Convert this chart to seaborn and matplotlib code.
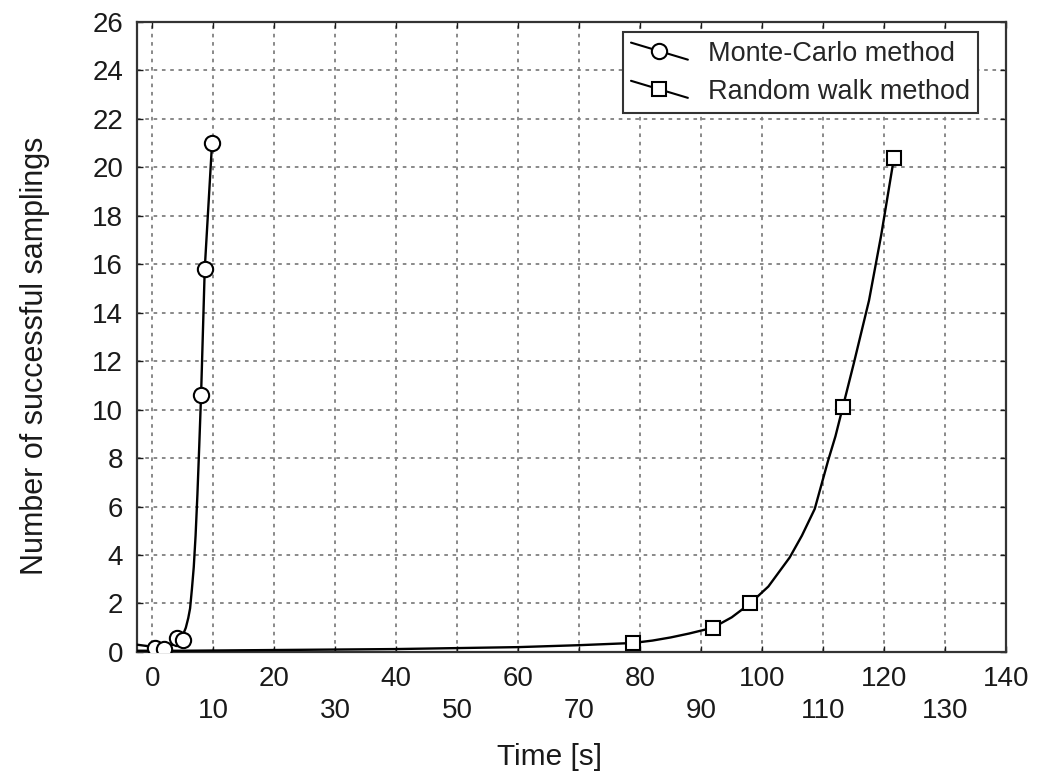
"""
Successful samplings over time: Monte-Carlo vs random walk
"""
import numpy as np
import pandas as pd
import matplotlib
matplotlib.use("Agg")
import matplotlib.pyplot as plt
import seaborn as sns
from matplotlib.lines import Line2D
from matplotlib.legend_handler import HandlerLine2D
from matplotlib.ticker import FixedLocator

# marker points
mc_x = [0.4, 2.0, 4.1, 5.0, 8.0, 8.6, 9.8]
mc_y = [0.17, 0.12, 0.58, 0.5, 10.6, 15.8, 21.0]
rw_x = [78.8, 91.9, 98.0, 113.2, 121.6]
rw_y = [0.37, 1.0, 2.0, 10.1, 20.4]

# the drawn smooth curves
mc_curve_x = [-2.5, -1.0, 0.5, 2.0, 3.2, 4.0, 4.6, 5.1, 5.5, 5.9, 6.2, 6.5, 6.8,
              7.1, 7.4, 7.7, 8.0, 8.3, 8.6, 9.2, 9.8]
mc_curve_y = [0.3, 0.25, 0.2, 0.2, 0.28, 0.4, 0.55, 0.75, 1.0, 1.4, 1.8, 2.6, 3.5,
              4.8, 6.5, 8.5, 10.6, 13.2, 15.8, 18.4, 21.0]
rw_curve_x = [-2.5, 5, 20, 40, 60, 70, 78.8, 82, 85, 88, 91.9, 95, 98.0, 101,
              104.5, 106.5, 108.6, 110.8, 112, 113.2, 115, 117.5, 119.5, 121.6]
rw_curve_y = [0.05, 0.05, 0.08, 0.12, 0.2, 0.28, 0.37, 0.47, 0.6, 0.76, 1.0, 1.43,
              2.0, 2.7, 3.9, 4.8, 5.9, 7.9, 8.9, 10.1, 11.9, 14.5, 17.2, 20.4]

labels = ["Monte-Carlo method", "Random walk method"]
x_major = [0, 20, 40, 60, 80, 100, 120, 140]
x_minor = [10, 30, 50, 70, 90, 110, 130]
y_ticks = list(range(0, 27, 2))


class DiagonalHandler(HandlerLine2D):
    # legend sample drawn as a slanted line, like the original figure
    def create_artists(self, legend, orig_handle, xdescent, ydescent,
                       width, height, fontsize, trans):
        artists = super().create_artists(legend, orig_handle, xdescent, ydescent,
                                         width, height, fontsize, trans)
        for a in artists:
            yd = np.asarray(a.get_ydata(), dtype=float)
            cy = yd.mean()
            a.set_ydata(np.linspace(cy + height * 0.45, cy - height * 0.45, len(yd)))
        return artists


sns.set_style("ticks")
plt.rcParams['font.family'] = ['Liberation Sans', 'DejaVu Sans']

fig = plt.figure(figsize=(10.46, 7.78), dpi=100)
ax = fig.add_axes([0.131, 0.162, 0.831, 0.81])

mc_curve = pd.DataFrame({"x": mc_curve_x, "y": mc_curve_y})
rw_curve = pd.DataFrame({"x": rw_curve_x, "y": rw_curve_y})
sns.lineplot(data=mc_curve, x="x", y="y", sort=False, color="black", lw=1.7, ax=ax, zorder=3)
sns.lineplot(data=rw_curve, x="x", y="y", sort=False, color="black", lw=1.7, ax=ax, zorder=3)

ax.plot(mc_x, mc_y, ls="none", marker="o", ms=11, mfc="white", mec="black", mew=1.5, zorder=4)
ax.plot(rw_x, rw_y, ls="none", marker="s", ms=10.5, mfc="white", mec="black", mew=1.5, zorder=4)

ax.set_xlim(-2.5, 140)
ax.set_ylim(0, 26)
ax.xaxis.set_major_locator(FixedLocator(x_major))
ax.xaxis.set_minor_locator(FixedLocator(x_minor))
ax.set_xticklabels([str(v) for v in x_major])
ax.set_xticklabels([str(v) for v in x_minor], minor=True)
ax.set_yticks(y_ticks)

ax.tick_params(axis="both", which="both", direction="in", length=4, width=1,
               top=True, right=True, labelsize=20, colors="#1a1a1a")
ax.tick_params(axis="x", which="major", pad=10)
ax.tick_params(axis="x", which="minor", pad=33)
ax.tick_params(axis="y", pad=10)

ax.grid(True, which="both", color="#808080", lw=1.3, ls=(0, (2, 2.6)))
for s in ax.spines.values():
    s.set_linewidth(1.6)
    s.set_color("#333333")

ax.set_xlabel("Time [s]", fontsize=21.5, color="#1a1a1a")
ax.set_ylabel("Number of successful samplings", fontsize=22, color="#1a1a1a")
ax.xaxis.set_label_coords(0.475, -0.145)
ax.yaxis.set_label_coords(-0.1, 0.47)

handles = [
    Line2D([], [], color="black", lw=1.5, marker="o", ms=11, mfc="white", mec="black", mew=1.5),
    Line2D([], [], color="black", lw=1.5, marker="s", ms=10, mfc="white", mec="black", mew=1.5),
]
leg = ax.legend(handles, labels, loc="upper right", bbox_to_anchor=(0.968, 0.983),
                borderaxespad=0, fontsize=19.5, frameon=True, fancybox=False,
                numpoints=1, handlelength=2.1, handletextpad=0.75, labelspacing=0.45,
                borderpad=0.3, handler_map={Line2D: DiagonalHandler()})
leg.get_frame().set_edgecolor("#333333")
leg.get_frame().set_linewidth(1.5)
leg.get_frame().set_alpha(1)

fig.savefig("out.png", dpi=100)
